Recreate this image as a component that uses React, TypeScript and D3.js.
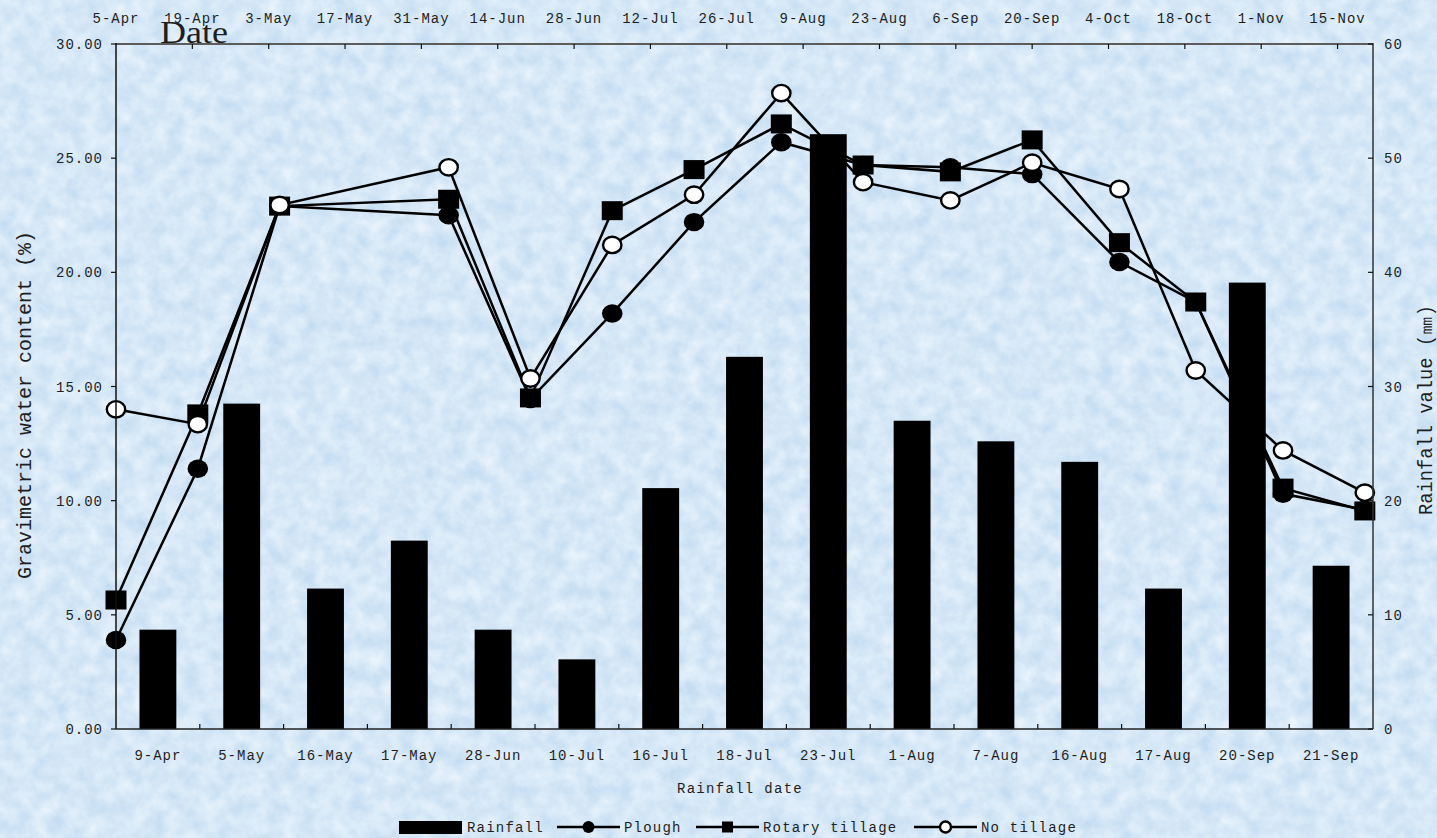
import React from 'react';
import * as d3 from 'd3';

// Rainfall events (bottom band axis, right value axis)
const rainfallDates = ['9-Apr', '5-May', '16-May', '17-May', '28-Jun', '10-Jul', '16-Jul', '18-Jul', '23-Jul', '1-Aug', '7-Aug', '16-Aug', '17-Aug', '20-Sep', '21-Sep'];
const rainfallMm = [8.7, 28.5, 12.3, 16.5, 8.7, 6.1, 21.1, 32.6, 52.1, 27.0, 25.2, 23.4, 12.3, 39.1, 14.3];

// Soil sampling dates (top time axis, left value axis)
const sampleDates = ['2015-04-05', '2015-04-20', '2015-05-05', '2015-06-05', '2015-06-20', '2015-07-05', '2015-07-20', '2015-08-05', '2015-08-20', '2015-09-05', '2015-09-20', '2015-10-06', '2015-10-20', '2015-11-05', '2015-11-20'];
const plough = [3.9, 11.4, 22.9, 22.5, 14.45, 18.2, 22.2, 25.7, 24.7, 24.6, 24.3, 20.45, 18.7, 10.3, 9.6];
const rotaryTillage = [5.65, 13.8, 22.9, 23.2, 14.5, 22.7, 24.5, 26.5, 24.7, 24.4, 25.8, 21.3, 18.7, 10.55, 9.55];
const noTillage = [14.0, 13.35, 22.95, 24.6, 15.35, 21.2, 23.4, 27.85, 23.95, 23.15, 24.8, 23.65, 15.7, 12.2, 10.35];

const waterTicks = [0, 5, 10, 15, 20, 25, 30];
const rainTicks = [0, 10, 20, 30, 40, 50, 60];

const W = 1437;
const H = 838;
const L = 116;
const R = 1373;
const T = 44;
const B = 729;

const FONT = '"Liberation Mono", "DejaVu Sans Mono", monospace';
const INK = '#1e1e1e';

const parse = d3.timeParse('%Y-%m-%d');
const axisStart = parse('2015-04-05') as Date;
const axisEnd = new Date(2015, 10, 21, 12);

export default function App() {
  const xTime = d3.scaleTime().domain([axisStart, axisEnd]).range([L, R]);
  const xBand = d3.scaleBand<string>().domain(rainfallDates).range([L, R]).paddingInner(0.56).paddingOuter(0.28);
  const yWater = d3.scaleLinear().domain([0, 30]).range([B, T]);
  const yRain = d3.scaleLinear().domain([0, 60]).range([B, T]);

  const topTicks = d3.range(17).map((i) => d3.timeDay.offset(axisStart, 14 * i));
  const fmtTop = d3.timeFormat('%-d-%b');
  const fmtWater = d3.format('.2f');

  const dates = sampleDates.map((s) => parse(s) as Date);
  const line = d3
    .line<number>()
    .x((_, i) => xTime(dates[i]))
    .y((v) => yWater(v));

  const step = xBand.step();
  const bandEdges = d3.range(rainfallDates.length + 1).map((i) => L + i * step);

  const series = [
    { name: 'Plough', values: plough, kind: 'dot' },
    { name: 'Rotary tillage', values: rotaryTillage, kind: 'square' },
    { name: 'No tillage', values: noTillage, kind: 'ring' },
  ];

  const marker = (kind: string, cx: number, cy: number, key: string | number, small = false) => {
    if (kind === 'square') {
      const w = small ? 11 : 21;
      const h = small ? 11 : 19;
      return <rect key={key} x={cx - w / 2} y={cy - h / 2} width={w} height={h} fill="#000" />;
    }
    if (kind === 'dot') {
      return <ellipse key={key} cx={cx} cy={cy} rx={small ? 6 : 10.3} ry={small ? 6 : 9.2} fill="#000" />;
    }
    return (
      <ellipse key={key} cx={cx} cy={cy} rx={small ? 5.5 : 9.2} ry={small ? 5.5 : 8.2} fill="#fff" stroke="#000" strokeWidth={2.4} />
    );
  };

  const legendItems = [
    { kind: 'bar', label: 'Rainfall', x0: 399, x1: 462, tx: 467 },
    { kind: 'dot', label: 'Plough', x0: 557, x1: 620, tx: 624 },
    { kind: 'square', label: 'Rotary tillage', x0: 696, x1: 759, tx: 763 },
    { kind: 'ring', label: 'No tillage', x0: 914, x1: 977, tx: 981 },
  ];
  const legendY = 827;

  return (
    <svg width={W} height={H} style={{ position: 'absolute', left: 0, top: 0, display: 'block' }}>
      <defs>
        <filter
          id="paper"
          x="0"
          y="0"
          width="100%"
          height="100%"
          filterUnits="userSpaceOnUse"
          colorInterpolationFilters="sRGB"
        >
          <feTurbulence type="fractalNoise" baseFrequency="0.06" numOctaves={5} seed={7} result="noise" />
          <feColorMatrix
            in="noise"
            type="matrix"
            values="1 0 0 0 0  1 0 0 0 0  1 0 0 0 0  0 0 0 0 1"
            result="grey"
          />
          <feComponentTransfer in="grey">
            <feFuncR type="linear" slope="0.2" intercept="0.74" />
            <feFuncG type="linear" slope="0.12" intercept="0.85" />
            <feFuncB type="linear" slope="0.05" intercept="0.945" />
          </feComponentTransfer>
        </filter>
      </defs>

      {/* textured backdrop */}
      <rect x={0} y={0} width={W} height={H} filter="url(#paper)" />

      {/* water content series: lines and markers */}
      {series.map((s) => (
        <g key={s.name}>
          <path d={line(s.values) || ''} fill="none" stroke="#000" strokeWidth={2.5} />
          {s.values.map((v, i) => marker(s.kind, xTime(dates[i]), yWater(v), i))}
        </g>
      ))}

      {/* rainfall bars */}
      {rainfallDates.map((d, i) => (
        <rect
          key={d}
          x={xBand(d)}
          y={yRain(rainfallMm[i])}
          width={xBand.bandwidth()}
          height={B - yRain(rainfallMm[i])}
          fill="#000"
        />
      ))}

      {/* frame */}
      <line x1={L} x2={R} y1={T} y2={T} stroke="#5c5c5c" strokeWidth={2.2} />
      <line x1={L} x2={L} y1={T - 1} y2={B} stroke="#111" strokeWidth={1.5} />
      <line x1={R} x2={R} y1={T - 1} y2={B} stroke="#333" strokeWidth={1.5} />
      <line x1={L} x2={R} y1={B} y2={B} stroke="#222" strokeWidth={1.5} />

      {/* top time axis */}
      {topTicks.map((t, i) => {
        const x = xTime(t);
        return (
          <g key={i}>
            {i > 0 && <line x1={x} x2={x} y1={T} y2={T + 5} stroke="#111" strokeWidth={1.2} />}
            <text x={x} y={23} textAnchor="middle" fontFamily={FONT} fontSize={14} letterSpacing={1} fill={INK}>
              {fmtTop(t)}
            </text>
          </g>
        );
      })}
      <text x={194} y={43} textAnchor="middle" fontFamily='"Liberation Serif", serif' fontSize={32} fill={INK} textLength={68} lengthAdjust="spacingAndGlyphs">
        Date
      </text>

      {/* left axis */}
      {waterTicks.map((v) => (
        <g key={v}>
          <line x1={L - 5} x2={L} y1={yWater(v)} y2={yWater(v)} stroke="#111" strokeWidth={1.2} />
          <text x={103} y={yWater(v) + 5} textAnchor="end" fontFamily={FONT} fontSize={14} letterSpacing={1} fill={INK}>
            {fmtWater(v)}
          </text>
        </g>
      ))}
      <text
        transform={`translate(31, 405) rotate(-90)`}
        textAnchor="middle"
        fontFamily={FONT}
        fontSize={20}
        fill={INK}
        textLength={348}
        lengthAdjust="spacingAndGlyphs"
      >
        Gravimetric water content (%)
      </text>

      {/* right axis */}
      {rainTicks.map((v) => (
        <g key={v}>
          <line x1={R - 5} x2={R} y1={yRain(v)} y2={yRain(v)} stroke="#111" strokeWidth={1.2} />
          <text x={1384} y={yRain(v) + 5} textAnchor="start" fontFamily={FONT} fontSize={14} letterSpacing={1} fill={INK}>
            {v}
          </text>
        </g>
      ))}
      <text
        transform={`translate(1432, 410) rotate(-90)`}
        textAnchor="middle"
        fontFamily={FONT}
        fontSize={20}
        fill={INK}
        textLength={210}
        lengthAdjust="spacingAndGlyphs"
      >
        Rainfall value (㎜)
      </text>

      {/* bottom band axis */}
      {bandEdges.map((x, i) =>
        i > 0 && i < bandEdges.length - 1 ? (
          <line key={i} x1={x} x2={x} y1={B} y2={B - 5} stroke="#111" strokeWidth={1.2} />
        ) : null
      )}
      {rainfallDates.map((d) => (
        <text
          key={d}
          x={(xBand(d) as number) + xBand.bandwidth() / 2}
          y={760}
          textAnchor="middle"
          fontFamily={FONT}
          fontSize={14}
          letterSpacing={1}
          fill={INK}
        >
          {d}
        </text>
      ))}
      <text x={740} y={793} textAnchor="middle" fontFamily={FONT} fontSize={14} letterSpacing={1.3} fill={INK}>
        Rainfall date
      </text>

      {/* legend */}
      {legendItems.map((it) => (
        <g key={it.label}>
          {it.kind === 'bar' ? (
            <rect x={it.x0} y={legendY - 6} width={it.x1 - it.x0} height={13} fill="#000" />
          ) : (
            <g>
              <line x1={it.x0} x2={it.x1} y1={legendY} y2={legendY} stroke="#000" strokeWidth={2.5} />
              {marker(it.kind, (it.x0 + it.x1) / 2, legendY, 'm', true)}
            </g>
          )}
          <text x={it.tx} y={legendY + 5} fontFamily={FONT} fontSize={14} letterSpacing={1.2} fill={INK}>
            {it.label}
          </text>
        </g>
      ))}
    </svg>
  );
}
